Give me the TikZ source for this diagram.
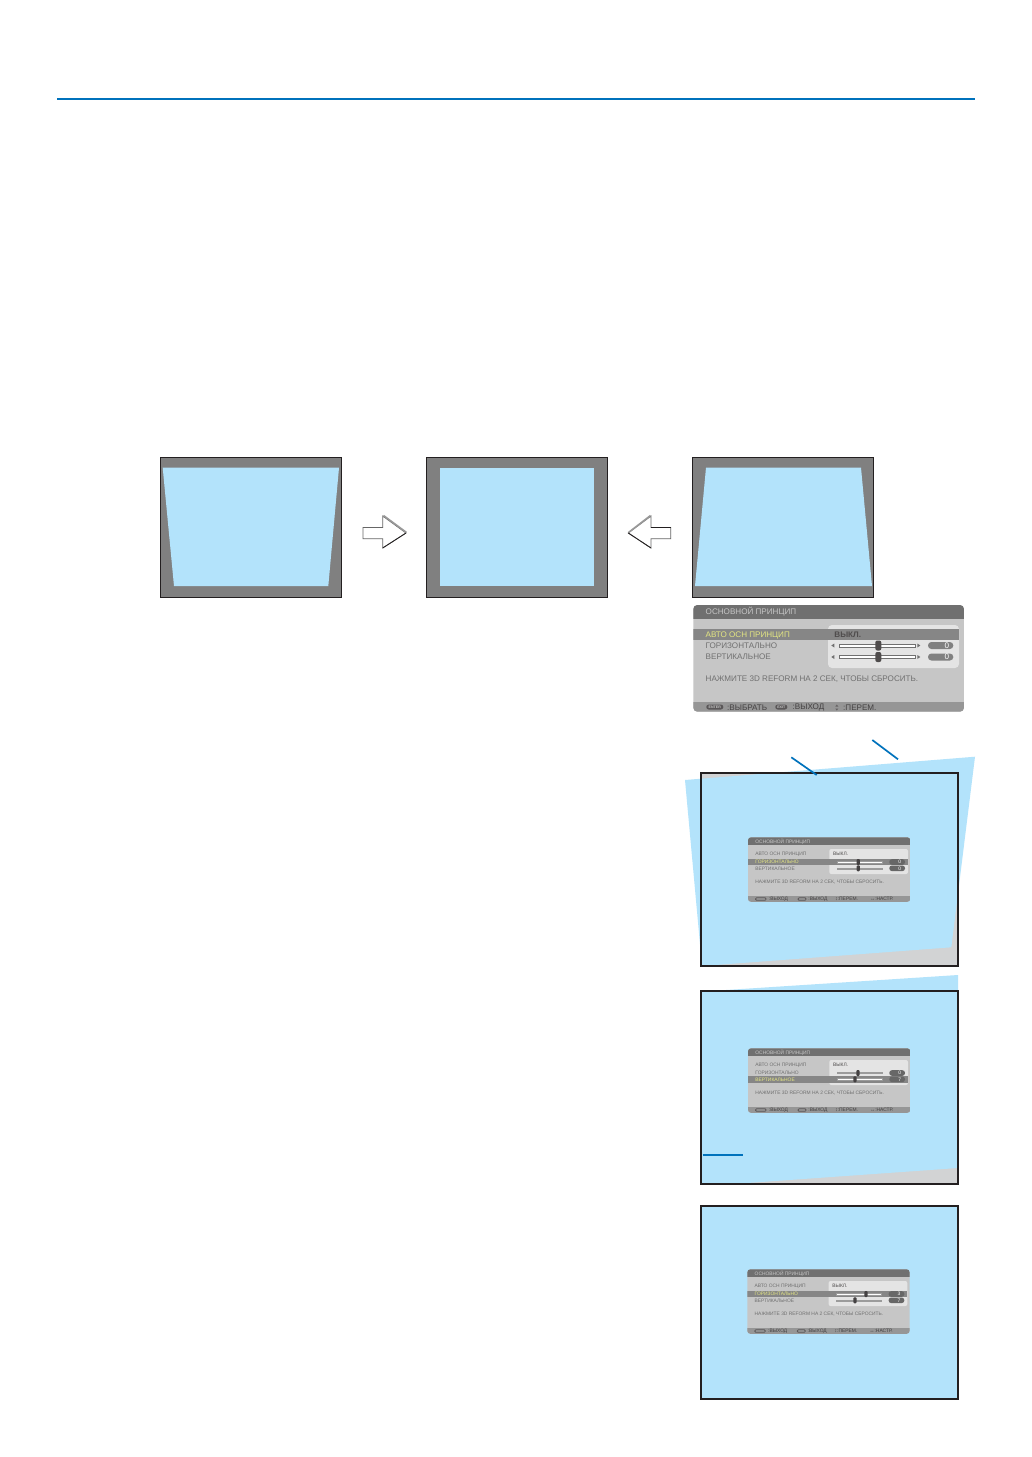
\documentclass[tikz,border=0pt]{standalone}
\usepackage{fontspec}
\setmainfont{Liberation Sans}
\definecolor{rulebl}{RGB}{0, 114, 188}
\definecolor{skybl}{RGB}{179, 227, 251}
\definecolor{screengray}{RGB}{128, 128, 128}
\definecolor{wallgray}{RGB}{210, 211, 212}
\definecolor{framedk}{RGB}{35, 31, 32}
\definecolor{menubg}{RGB}{198, 198, 198}
\definecolor{menubar}{RGB}{112, 112, 112}
\definecolor{menufoot}{RGB}{150, 150, 150}
\definecolor{menupane}{RGB}{228, 228, 228}
\definecolor{menutxt}{RGB}{112, 112, 112}
\definecolor{menusel}{RGB}{228, 230, 130}
\usetikzlibrary{positioning}
\tikzset{
  screenbox/.style={draw=framedk, fill=screengray, line width=0.55pt},
  screenimg/.style={fill=skybl},
  framebox/.style={draw=framedk, line width=0.85pt},
  leader/.style={draw=rulebl, line width=0.85pt},
  bigarrow/.style={draw=black!60, fill=white, line width=0.4pt},
  arrowedge/.style={draw=framedk, line width=0.4pt},
  arrowshade/.style={draw=black!40, line width=0.8pt},
  bigtxt/.style={anchor=west, inner sep=0pt, text=menutxt, font=\fontsize{4.05}{5}\selectfont},
  smalltxt/.style={anchor=west, inner sep=0pt, text=menutxt, font=\fontsize{2.45}{3}\selectfont},
  tinytag/.style={anchor=center, inner sep=0pt, text=menubg, font=\fontsize{1.8}{2}\selectfont\bfseries},
}
\begin{document}
\begin{tikzpicture}[x=0.5pt, y=-0.5pt]
\fill[white] (0,0) rectangle (1032,1457);
\useasboundingbox (0,0) rectangle (1032,1457);

% Header rule
\coordinate (ruleL) at (57,99);
\coordinate (ruleR) at (975,99);
\draw[draw=rulebl, line width=0.7pt] (ruleL) -- (ruleR);

% Keystone screens
\draw[screenbox] (160.5,457.5) rectangle (341.5,597.5);
\fill[screenimg] (162.7,467.7) -- (339,467.7) -- (328.3,586) -- (174,586) -- cycle;
\draw[screenbox] (426.5,457.5) rectangle (607.5,597.5);
\fill[screenimg] (440,467.7) -- (594,467.7) -- (594,586) -- (440,586) -- cycle;
\draw[screenbox] (692.5,457.5) rectangle (873.5,597.5);
\fill[screenimg] (706,467.7) -- (861,467.7) -- (872,586) -- (695,586) -- cycle;

% Block arrows
\draw[bigarrow] (363,527.5) -- (382.7,527.5) -- (382.7,516) -- (406,533) -- (382.7,548) -- (382.7,538.7) -- (363,538.7) -- cycle;
\draw[arrowshade] (383.5,515.5) -- (406.5,532.5);
\draw[arrowedge] (406,533) -- (382.7,548);
\draw[bigarrow] (670.7,527.5) -- (651,527.5) -- (651,516) -- (628.3,533) -- (651,548) -- (651,538.7) -- (670.7,538.7) -- cycle;
\draw[arrowshade] (628.5,532.5) -- (650.5,515.5);
\draw[arrowedge] (628.3,533) -- (651,548);
\draw[arrowedge] (651,527.5) -- (670.7,527.5);

% Large menu
\begin{scope}[shift={(693.3,605)}]
\begin{scope}
\clip[rounded corners=2pt] (0,0) rectangle (270.7,106.7);
\fill[menubg] (0,0) rectangle (270.7,106.7);
\fill[menubar] (0,0) rectangle (270.7,14);
\fill[menufoot] (0,96.7) rectangle (270.7,106.7);
\fill[menupane, rounded corners=2pt] (134.7,20) rectangle (265.7,63);
\fill[screengray!95] (0,24) rectangle (265.7,35);
\end{scope}
\node[bigtxt, text=menubg] (bigTitle) at (12,6.7) {ОСНОВНОЙ ПРИНЦИП};
\node[bigtxt, text=menusel] (bigAuto) at (12,30) {АВТО ОСН ПРИНЦИП};
\node[bigtxt] (bigHor) at (12,40.5) {ГОРИЗОНТАЛЬНО};
\node[bigtxt] (bigVer) at (12,52) {ВЕРТИКАЛЬНОЕ};
\node[bigtxt, text=framedk!80, font=\fontsize{4.05}{5}\selectfont\bfseries] (bigOff) at (140.7,30) {ВЫКЛ.};
\node[bigtxt] (bigHint) at (12,74.3) {НАЖМИТЕ 3D REFORM НА 2 СЕК, ЧТОБЫ СБРОСИТЬ.};
% sliders
\foreach \ry in {40.5,52} {
  \fill[menutxt] (141,\ry-2) -- (141,\ry+2) -- (138,\ry) -- cycle;
  \fill[menutxt] (224,\ry-2) -- (224,\ry+2) -- (227,\ry) -- cycle;
  \draw[fill=white, draw=menutxt, line width=0.2pt] (146,\ry-1.5) rectangle (222,\ry+1.5);
  \fill[framedk!80, rounded corners=1pt] (182,\ry-5) rectangle (188,\ry+5);
  \fill[screengray, rounded corners=1.7pt] (234.7,\ry-3.5) rectangle (260,\ry+3.5);
}
\node[bigtxt, text=white] (bigHorVal) at (251,40.5) {0};
\node[bigtxt, text=white] (bigVerVal) at (251,52) {0};
% footer
\fill[framedk!75, rounded corners=1.2pt] (13,99.5) rectangle (30,104.5);
\node[tinytag] (bigEnter) at (21.5,102) {ENTER};
\node[bigtxt, text=framedk!85] (bigSel) at (33.5,102.5) {:ВЫБРАТЬ};
\fill[framedk!75, rounded corners=1.2pt] (82,99.5) rectangle (94,104.5);
\node[tinytag] (bigEsc) at (88,102) {EXIT};
\node[bigtxt, text=framedk!85] (bigExit) at (99,102.5) {:ВЫХОД};
\node[bigtxt, text=framedk!85] (bigMove) at (149.5,102.5) {:ПЕРЕМ.};
\fill[framedk!70] (143.5,99.5) -- (145,101.5) -- (142,101.5) -- cycle;
\fill[framedk!70] (143.5,105.5) -- (145,103.5) -- (142,103.5) -- cycle;
\end{scope}

% Wall shots
\fill[wallgray] (700.7,772.7) rectangle (958,966);
\fill[screenimg] (685,780) -- (975,756.7) -- (951.3,947.3) -- (702,966) -- cycle;
\draw[framebox] (700.7,772.7) rectangle (958,966);

\fill[wallgray] (700.7,990.7) rectangle (958,1184);
\fill[screenimg] (700.7,991) -- (726,990) -- (958,975) -- (958,1168) -- (733,1184) -- (700.7,1184) -- cycle;
\draw[framebox] (700.7,990.7) rectangle (958,1184);

\fill[screenimg] (700.7,1206) rectangle (958,1399);
\draw[framebox] (700.7,1206) rectangle (958,1399);

% Leaders
\coordinate (leadA) at (791.3,757.3);
\coordinate (leadAend) at (816.7,775);
\coordinate (leadB) at (872.3,740);
\coordinate (leadBend) at (898,759.3);
\coordinate (leadC) at (702.7,1155);
\coordinate (leadCend) at (742.7,1155);
\draw[leader] (leadA) -- (leadAend);
\draw[leader] (leadB) -- (leadBend);
\draw[leader] (leadC) -- (leadCend);

% Small menus
\foreach \mx/\my/\hrow/\hcol/\vcol/\hknob/\vknob/\hval/\vval/\hth/\vth [count=\i] in {
  748/837.3/24.7/menusel/menutxt/110.3/110.3/0/0/1.2/0.5,
  748/1048.3/31/menutxt/menusel/110/107/0/7/0.5/1.2,
  747.3/1269.3/24.7/menusel/menutxt/118.7/107.7/3/7/1.2/0.5} {
\begin{scope}[shift={(\mx,\my)}]
\begin{scope}
\clip[rounded corners=1.5pt] (0,0) rectangle (162.3,64.5);
\fill[menubg] (0,0) rectangle (162.3,64.5);
\fill[menubar] (0,0) rectangle (162.3,7.7);
\fill[menufoot] (0,58.4) rectangle (162.3,64.5);
\fill[menupane, rounded corners=1pt] (81.3,11.7) rectangle (160,36.7);
\fill[screengray!95] (0,\hrow-3.2) rectangle (160,\hrow+3.2);
\end{scope}
\node[smalltxt, text=menubg] (title\i) at (7,4) {ОСНОВНОЙ ПРИНЦИП};
\node[smalltxt] (auto\i) at (7,17) {АВТО ОСН ПРИНЦИП};
\node[smalltxt, text=\hcol] (hor\i) at (7,24.7) {ГОРИЗОНТАЛЬНО};
\node[smalltxt, text=\vcol] (ver\i) at (7,31) {ВЕРТИКАЛЬНОЕ};
\node[smalltxt, text=framedk!80] (off\i) at (84.7,17) {ВЫКЛ.};
\node[smalltxt] (hint\i) at (7,44.4) {НАЖМИТЕ 3D REFORM НА 2 СЕК, ЧТОБЫ СБРОСИТЬ.};
% sliders
\draw[fill=white, draw=menutxt!70, line width=0.12pt] (88.7,24.7-\hth) rectangle (133.7,24.7+\hth);
\draw[fill=white, draw=menutxt!70, line width=0.12pt] (88.7,31-\vth) rectangle (133.7,31+\vth);
\fill[framedk!85, rounded corners=0.5pt] (\hknob-1.6,24.7-3) rectangle (\hknob+1.6,24.7+3);
\fill[framedk!85, rounded corners=0.5pt] (\vknob-1.6,31-3) rectangle (\vknob+1.6,31+3);
\fill[screengray!80!black, rounded corners=1.3pt] (141.3,24.7-2.8) rectangle (157,24.7+2.8);
\fill[screengray!80!black, rounded corners=1.3pt] (141.3,31-2.8) rectangle (157,31+2.8);
\node[smalltxt, text=white] (horVal\i) at (150,24.7) {\hval};
\node[smalltxt, text=white] (verVal\i) at (150,31) {\vval};
% footer
\draw[framedk!75, line width=0.4pt, rounded corners=0.5pt] (7.5,60.5) rectangle (18,63);
\node[smalltxt, text=framedk!85] (footA\i) at (20.5,61.7) {:ВЫХОД};
\draw[framedk!75, line width=0.4pt, rounded corners=0.5pt] (50,60.5) rectangle (58,63);
\node[smalltxt, text=framedk!85] (footB\i) at (60,61.7) {:ВЫХОД};
\node[smalltxt, text=framedk!85] (footC\i) at (87,61.7) {↕:ПЕРЕМ.};
\node[smalltxt, text=framedk!85] (footD\i) at (122,61.7) {↔:НАСТР.};
\end{scope}
}
\end{tikzpicture}
\end{document}
